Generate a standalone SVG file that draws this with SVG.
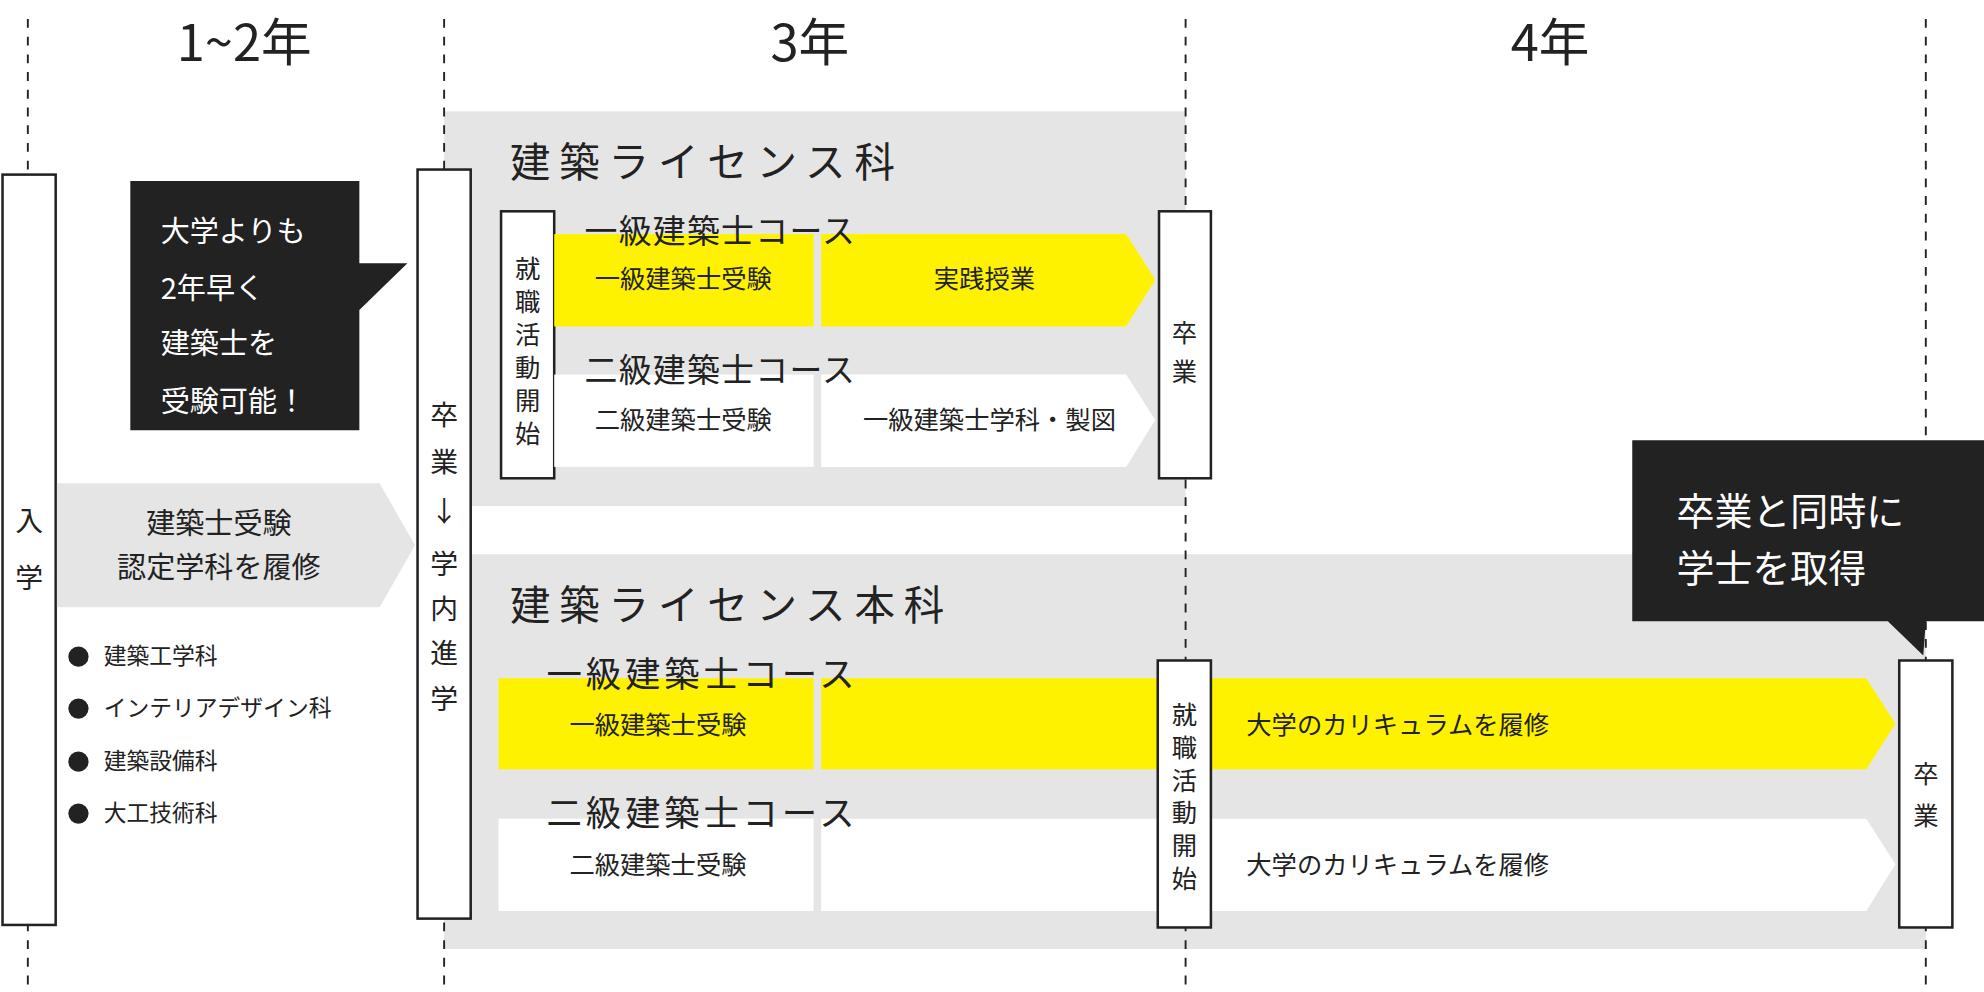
<svg xmlns="http://www.w3.org/2000/svg" width="1984" height="992" viewBox="0 0 1984 992">
<style>
text{font-family:"Noto Sans CJK JP","Noto Sans",sans-serif;fill:#222}
.w{fill:#fff}
.box{fill:#fff;stroke:#222;stroke-width:2}
.dash{stroke:#222;stroke-width:1.5;stroke-dasharray:7 7}
.g{fill:#e5e5e5}
.y{fill:#fff200}
.wh{fill:#fff}
.c{text-anchor:middle}
</style>
<rect width="1984" height="992" fill="#fff"/>
<g transform="scale(1.26531)">
<g id="bg">
<rect class="g" x="351" y="88" width="586" height="312"/>
<rect class="g" x="351" y="438" width="1171" height="312"/>
</g>
<g id="connectors">
<line class="dash" x1="22" y1="15" x2="22" y2="784"/>
<line class="dash" x1="351" y1="15" x2="351" y2="784"/>
<line class="dash" x1="937" y1="15" x2="937" y2="784"/>
<line class="dash" x1="1522" y1="15" x2="1522" y2="784"/>
</g>
<g id="headers" font-size="40">
<text class="c" x="193" y="48">1~2年</text>
<text class="c" x="640" y="48">3年</text>
<text class="c" x="1225" y="48">4年</text>
</g>
<g id="nyugaku">
<rect class="box" x="2" y="138" width="42" height="593"/>
<text class="c" x="23" y="420" font-size="22">入</text>
<text class="c" x="23" y="465" font-size="22">学</text>
</g>
<g id="callout1">
<path d="M103 143H284V208L322 208L284 245V340H103Z" fill="#222"/>
<g font-size="23"><text class="w" x="127" y="191">大学よりも</text><text class="w" x="127" y="236">2年早く</text><text class="w" x="127" y="280">建築士を</text><text class="w" x="127" y="326">受験可能！</text></g>
</g>
<g id="nintei">
<path class="g" d="M45 382H300L328 431L300 480H45Z"/>
<text class="c" x="173" y="422" font-size="23">建築士受験</text>
<text class="c" x="173" y="457" font-size="23">認定学科を履修</text>
</g>
<g id="bullets" font-size="18">
<circle cx="62" cy="519" r="8" fill="#222"/><text x="82" y="525">建築工学科</text>
<circle cx="62" cy="560" r="8" fill="#222"/><text x="82" y="566">インテリアデザイン科</text>
<circle cx="62" cy="602" r="8" fill="#222"/><text x="82" y="608">建築設備科</text>
<circle cx="62" cy="643" r="8" fill="#222"/><text x="82" y="649">大工技術科</text>
</g>
<g id="naibu" font-size="22">
<rect class="box" x="330" y="134" width="42" height="592"/>
<text class="c" x="351" y="336">卒</text><text class="c" x="351" y="373">業</text>
<text class="c" x="351" y="412">↓</text><text class="c" x="351" y="454">学</text>
<text class="c" x="351" y="489">内</text><text class="c" x="351" y="524">進</text><text class="c" x="351" y="560">学</text>
</g>
<g id="license">
<text x="403" y="140" font-size="32" letter-spacing="7">建築ライセンス科</text>
<rect class="box" x="396" y="167" width="42" height="211"/>
<g font-size="20"><text class="c" x="417" y="220">就</text><text class="c" x="417" y="246">職</text><text class="c" x="417" y="272">活</text><text class="c" x="417" y="298">動</text><text class="c" x="417" y="324">開</text><text class="c" x="417" y="350">始</text></g>
<rect class="y" x="438" y="185" width="205" height="73"/>
<path class="y" d="M649 185H890L913 221L890 258H649Z"/>
<rect class="wh" x="438" y="296" width="205" height="73"/>
<path class="wh" d="M649 296H890L913 332L890 369H649Z"/>
<text x="462" y="192" font-size="26" letter-spacing="1">一級建築士コース</text>
<text x="462" y="302" font-size="26" letter-spacing="1">二級建築士コース</text>
<g font-size="20"><text class="c" x="540" y="228">一級建築士受験</text><text class="c" x="778" y="228">実践授業</text>
<text class="c" x="540" y="339">二級建築士受験</text><text class="c" x="782" y="339">一級建築士学科・製図</text></g>
<rect class="box" x="916" y="167" width="41" height="211"/>
<text class="c" x="936" y="270" font-size="20">卒</text><text class="c" x="936" y="301" font-size="20">業</text>
</g>
<g id="honka">
<text x="403" y="490" font-size="32" letter-spacing="7">建築ライセンス本科</text>
<rect class="y" x="394" y="536" width="249" height="72"/>
<path class="y" d="M649 536H1475L1498 572L1475 608H649Z"/>
<rect class="wh" x="394" y="647" width="249" height="73"/>
<path class="wh" d="M649 647H1475L1498 683L1475 720H649Z"/>
<text x="432" y="543" font-size="28" letter-spacing="3">一級建築士コース</text>
<text x="432" y="653" font-size="28" letter-spacing="3">二級建築士コース</text>
<g font-size="20"><text class="c" x="520" y="580">一級建築士受験</text><text x="985" y="580">大学のカリキュラムを履修</text>
<text class="c" x="520" y="691">二級建築士受験</text><text x="985" y="691">大学のカリキュラムを履修</text></g>
<rect class="box" x="915" y="522" width="42" height="211"/>
<g font-size="20"><text class="c" x="936" y="572">就</text><text class="c" x="936" y="598">職</text><text class="c" x="936" y="624">活</text><text class="c" x="936" y="650">動</text><text class="c" x="936" y="676">開</text><text class="c" x="936" y="702">始</text></g>
<rect class="box" x="1501" y="522" width="42" height="211"/>
<text class="c" x="1522" y="619" font-size="20">卒</text><text class="c" x="1522" y="652" font-size="20">業</text>
</g>
<g id="callout2">
<path d="M1290 348H1568V491H1522L1520 518L1492 491H1290Z" fill="#222"/>
<text class="w" x="1325" y="415" font-size="30">卒業と同時に</text>
<text class="w" x="1325" y="460" font-size="30">学士を取得</text>
</g>
</g>
</svg>
